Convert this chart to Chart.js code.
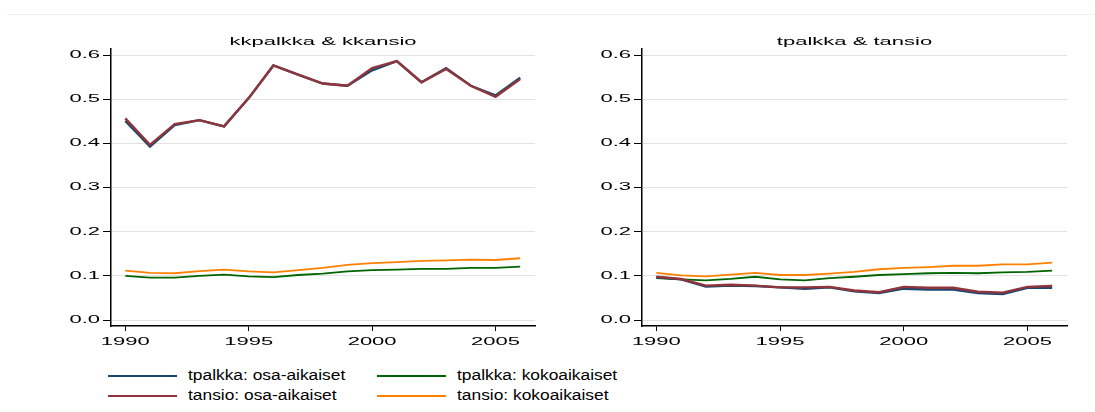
<!DOCTYPE html>
<html>
<head>
<meta charset="utf-8">
<script src="https://cdn.jsdelivr.net/npm/chart.js@4/dist/chart.umd.min.js"></script>
<style>
  body { margin: 0; background: #fff; font-family: "Liberation Sans", Arial, sans-serif; }
  #wrap { position: relative; width: 1095px; height: 412px; overflow: hidden; }
  #topline { position: absolute; left: 7px; right: 0; top: 14px; height: 1px; background: #efefef; }
  canvas { position: absolute; top: 0; }
  #c1 { left: 0; }
  #c2 { left: 548px; }
  .sw { position: absolute; width: 69px; height: 2px; }
  .lt { position: absolute; font-size: 14px; line-height: 14px; color: #000; transform: scaleX(1.24); transform-origin: left center; white-space: nowrap; }
</style>
</head>
<body>
<div id="wrap">
  <div id="topline"></div>
  <canvas id="c1" width="548" height="350"></canvas>
  <canvas id="c2" width="547" height="350"></canvas>
  <div id="legend"></div>
</div>
<script>
// years and tick labels
const years = [1990,1991,1992,1993,1994,1995,1996,1997,1998,1999,2000,2001,2002,2003,2004,2005,2006];
const xTicks = [1990, 1995, 2000, 2005];
const yTicks = [0, 0.1, 0.2, 0.3, 0.4, 0.5, 0.6];

// kkpalkka & kkansio
const kkPalkkaOsa  = [0.451,0.393,0.442,0.453,0.439,0.503,0.577,0.556,0.536,0.531,0.566,0.587,0.539,0.571,0.531,0.509,0.549];
const kkPalkkaKoko = [0.100,0.096,0.096,0.100,0.103,0.099,0.097,0.102,0.105,0.110,0.113,0.114,0.116,0.116,0.118,0.118,0.121];
const kkAnsioOsa   = [0.457,0.397,0.444,0.453,0.439,0.503,0.577,0.556,0.536,0.531,0.571,0.587,0.539,0.569,0.531,0.506,0.546];
const kkAnsioKoko  = [0.112,0.107,0.106,0.111,0.114,0.110,0.108,0.113,0.118,0.125,0.129,0.131,0.134,0.135,0.137,0.136,0.140];

// tpalkka & tansio
const tPalkkaOsa  = [0.097,0.092,0.076,0.078,0.077,0.074,0.071,0.074,0.065,0.061,0.071,0.069,0.069,0.061,0.059,0.073,0.073];
const tPalkkaKoko = [0.095,0.092,0.090,0.093,0.098,0.092,0.090,0.095,0.098,0.102,0.104,0.106,0.107,0.106,0.108,0.109,0.112];
const tAnsioOsa   = [0.098,0.093,0.078,0.080,0.078,0.074,0.074,0.075,0.067,0.063,0.075,0.073,0.073,0.064,0.062,0.075,0.077];
const tAnsioKoko  = [0.107,0.101,0.099,0.103,0.107,0.102,0.102,0.105,0.109,0.115,0.118,0.120,0.123,0.123,0.126,0.126,0.130];

const seriesNames = ["tpalkka: osa-aikaiset", "tpalkka: kokoaikaiset", "tansio: osa-aikaiset", "tansio: kokoaikaiset"];
const colors = ["#1a476f", "#006400", "#90353b", "#ff8000"];

// the source picture has wide, flat lettering: stretch text drawn on the canvas
function stretchText(ctx, sx) {
  const fill = ctx.fillText.bind(ctx);
  const measure = ctx.measureText.bind(ctx);
  ctx.fillText = function(text, x, y) {
    ctx.save();
    ctx.translate(x, y);
    ctx.scale(sx, 1);
    fill(text, 0, 0);
    ctx.restore();
  };
  ctx.measureText = function(text) {
    const m = measure(text);
    return {
      width: m.width * sx,
      actualBoundingBoxAscent: m.actualBoundingBoxAscent,
      actualBoundingBoxDescent: m.actualBoundingBoxDescent,
      actualBoundingBoxLeft: m.actualBoundingBoxLeft * sx,
      actualBoundingBoxRight: m.actualBoundingBoxRight * sx
    };
  };
}

function pts(vals) {
  return vals.map((v, i) => ({x: years[i], y: v}));
}

function makeChart(id, title, data, yWidth, padRight) {
  const canvas = document.getElementById(id);
  const ctx = canvas.getContext("2d");
  stretchText(ctx, 2.2);
  // draw order: red over blue
  const sets = [2, 0, 1, 3].map(k => ({
    label: seriesNames[k],
    data: pts(data[k]),
    borderColor: colors[k],
    borderWidth: k === 0 || k === 2 ? 2.4 : 1.8,
    pointRadius: 0,
    tension: 0,
    fill: false
  }));
  return new Chart(ctx, {
    type: "line",
    data: { datasets: sets },
    options: {
      responsive: false,
      animation: false,
      layout: { padding: { left: 0, right: padRight, top: 0, bottom: 0 } },
      plugins: {
        legend: { display: false },
        tooltip: { enabled: false },
        title: {
          display: true,
          text: title,
          fullSize: false,
          color: "#000",
          font: { family: "Liberation Sans", size: 10, weight: "normal", lineHeight: 1.2 },
          padding: { top: 36, bottom: 1 }
        }
      },
      scales: {
        x: {
          type: "linear",
          min: 1989.42,
          max: 2006.6,
          afterBuildTicks: s => { s.ticks = xTicks.map(v => ({value: v})); },
          afterFit: s => { s.height = 24; },
          ticks: {
            autoSkip: false, maxRotation: 0, padding: 5, color: "#000",
            font: { family: "Liberation Sans", size: 10 },
            callback: v => String(v)
          },
          grid: { drawOnChartArea: false, tickLength: 5, tickColor: "#000", tickWidth: 1 },
          border: { display: true, color: "#000", width: 1.5 }
        },
        y: {
          min: -0.0136,
          max: 0.6143,
          afterBuildTicks: s => { s.ticks = yTicks.map(v => ({value: v})); },
          afterFit: s => { s.width = yWidth; },
          ticks: {
            padding: 3, color: "#000",
            font: { family: "Liberation Sans", size: 10 },
            callback: v => Number(v).toFixed(1)
          },
          grid: { color: "#e2e2e2", lineWidth: 1, tickLength: 8, tickColor: "#000", tickWidth: 1 },
          border: { display: true, color: "#000", width: 1.5 }
        }
      }
    }
  });
}

makeChart("c1", "kkpalkka & kkansio", [kkPalkkaOsa, kkPalkkaKoko, kkAnsioOsa, kkAnsioKoko], 111, 13);
makeChart("c2", "tpalkka & tansio", [tPalkkaOsa, tPalkkaKoko, tAnsioOsa, tAnsioKoko], 94, 28);

// shared legend under both panels
const legendPos = [[108, 376], [377, 376], [108, 396], [377, 396]];
const legendOrder = [0, 1, 2, 3];
let html = "";
legendOrder.forEach((k, i) => {
  const [lx, ly] = legendPos[i];
  html += `<div class="sw" style="left:${lx}px;top:${ly - 1}px;background:${colors[k]}"></div>`;
  html += `<div class="lt" style="left:${lx + 80}px;top:${ly - 8}px">${seriesNames[k]}</div>`;
});
document.getElementById("legend").innerHTML = html;
</script>
</body>
</html>
